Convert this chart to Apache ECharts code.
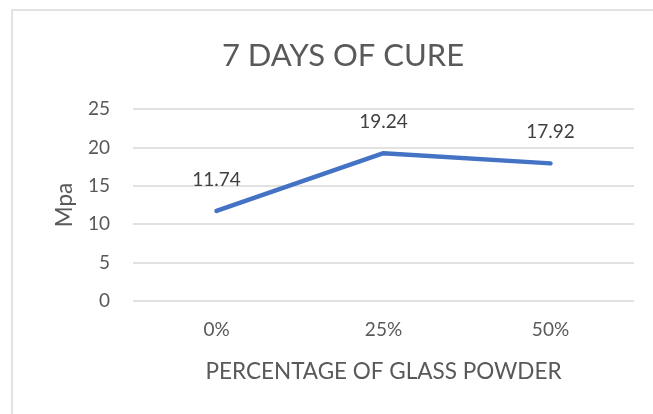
<!DOCTYPE html>
<html>
<head>
<meta charset="utf-8">
<script src="https://cdn.jsdelivr.net/npm/echarts@6/dist/echarts.min.js"></script>
<style>
  html, body { margin: 0; padding: 0; background: #fff; }
  #chart { width: 653px; height: 414px; }
</style>
</head>
<body>
<div id="chart"></div>
<script>
const categories = ['0%', '25%', '50%'];
const strength = [11.74, 19.24, 17.92];
const yTicks = { min: 0, max: 25, interval: 5 };

const chart = echarts.init(document.getElementById('chart'));
const font = 'Lato, "Open Sans", sans-serif';
const option = {
    backgroundColor: '#fff',
    textStyle: { fontFamily: font },
    graphic: [{
        type: 'rect',
        shape: { x: 12, y: 10, width: 700, height: 460 },
        style: { fill: 'none', stroke: '#d9d9d9', lineWidth: 1.5 },
        silent: true
    }],
    title: {
        text: '7 DAYS OF CURE',
        left: 338,
        top: 35,
        textAlign: 'center',
        textStyle: { fontFamily: font, fontSize: 31, fontWeight: 'normal', color: '#595959' }
    },
    grid: { left: 133, right: 19, top: 109, bottom: 113 },
    xAxis: {
        type: 'category',
        data: categories,
        boundaryGap: true,
        name: 'PERCENTAGE OF GLASS POWDER',
        nameLocation: 'middle',
        nameGap: 59,
        nameTextStyle: { fontFamily: font, fontSize: 22.5, color: '#595959' },
        axisLine: { show: false },
        axisTick: { show: false },
        axisLabel: { fontFamily: font, fontSize: 19, color: '#595959', margin: 19 }
    },
    yAxis: {
        type: 'value',
        min: yTicks.min,
        max: yTicks.max,
        interval: yTicks.interval,
        name: 'Mpa',
        nameLocation: 'middle',
        nameGap: 57,
        nameTextStyle: { fontFamily: font, fontSize: 22.5, color: '#595959' },
        axisLine: { show: false },
        axisTick: { show: false },
        axisLabel: { fontFamily: font, fontSize: 19, color: '#595959', margin: 23 },
        splitLine: { lineStyle: { color: '#d9d9d9', width: 1.5 } }
    },
    series: [{
        type: 'line',
        data: strength,
        symbol: 'circle',
        symbolSize: 3,
        showSymbol: true,
        lineStyle: { color: '#4472c4', width: 4.5, cap: 'round' },
        itemStyle: { color: '#4472c4' },
        label: {
            show: true,
            position: 'top',
            distance: 20,
            fontFamily: font,
            fontSize: 19,
            color: '#404040'
        }
    }]
};
chart.setOption(option);
</script>
</body>
</html>
